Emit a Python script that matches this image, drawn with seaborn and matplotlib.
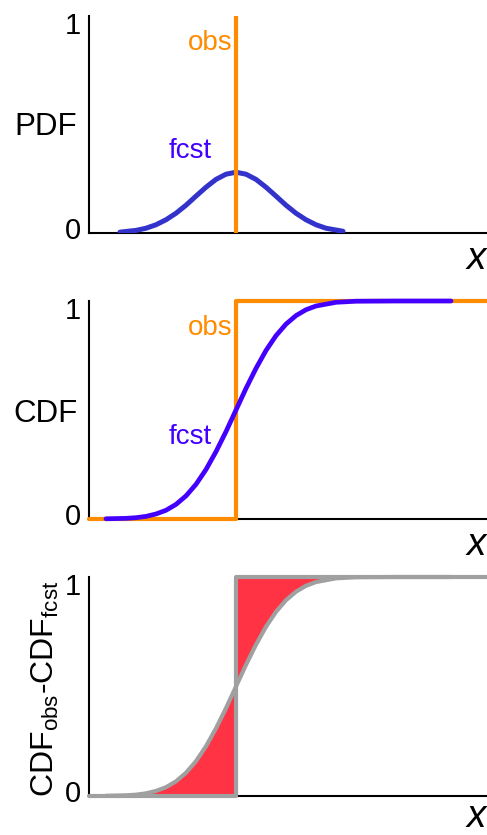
import numpy as np
import pandas as pd
import matplotlib
matplotlib.use("Agg")
import matplotlib.pyplot as plt
import seaborn as sns

# ---- data (x in units where obs = 0) ----
obs_x = 0.0
pdf_x = [-2.9, -2.5, -2.25, -2.0, -1.75, -1.5, -1.25, -1.0, -0.75, -0.5, -0.25,
         0.0, 0.25, 0.5, 0.75, 1.0, 1.25, 1.5, 1.75, 2.0, 2.25, 2.675]
pdf_y = [0.004, 0.012, 0.022, 0.038, 0.061, 0.091, 0.128, 0.170, 0.211, 0.247, 0.271,
         0.280, 0.271, 0.247, 0.211, 0.170, 0.128, 0.091, 0.061, 0.038, 0.022, 0.008]
cdf_x = [-3.25, -2.75, -2.5, -2.25, -2.0, -1.75, -1.5, -1.25, -1.0, -0.75, -0.5, -0.25,
         0.0, 0.25, 0.5, 0.75, 1.0, 1.25, 1.5, 1.75, 2.0, 2.5, 3.0, 4.0, 5.375]
cdf_y = [0.001, 0.003, 0.006, 0.012, 0.023, 0.040, 0.067, 0.106, 0.159, 0.227, 0.309, 0.401,
         0.500, 0.599, 0.691, 0.773, 0.841, 0.894, 0.933, 0.960, 0.977, 0.994, 0.999, 1.0, 1.0]
xlim = (-3.675, 6.275)
obs_step_x = [xlim[0], obs_x, obs_x, xlim[1]]
obs_step_y = [0, 0, 1, 1]
y_tick_labels = ["0", "1"]
panel_labels = ["PDF", "CDF", r"CDF$_{obs}$-CDF$_{fcst}$"]

# ---- style ----
sns.set_style("white")
plt.rcParams["font.family"] = ["Liberation Sans", "DejaVu Sans"]
plt.rcParams["mathtext.default"] = "regular"
plt.rcParams["text.color"] = "black"

ORANGE = "#FF8C00"
BLUE_PDF = "#3333CC"
BLUE = "#4400FF"
GREY = "#A0A0A0"
RED = "#FF3344"

fig = plt.figure(figsize=(4.87, 8.35), dpi=100)
W, H = 487.0, 835.0
left, right = 89, 487

def make_ax(top_px, bot_px):
    return fig.add_axes([left / W, 1 - bot_px / H, (right - left) / W, (bot_px - top_px) / H])

ax1 = make_ax(16, 233)
ax2 = make_ax(301, 519)
ax3 = make_ax(577, 796)

for ax, xl_y in ((ax1, -0.165), (ax2, -0.165), (ax3, -0.14)):
    ax.set_xlim(*xlim)
    ax.set_ylim(0, 1)
    sns.despine(ax=ax, top=True, right=True)
    for s in ("left", "bottom"):
        ax.spines[s].set_linewidth(1.5)
        ax.spines[s].set_color("black")
    ax.set_xticks([])
    ax.set_yticks([])
    ax.set_facecolor("none")
    # tick labels 0 / 1
    ax.text(-0.02, 0.917, y_tick_labels[1], transform=ax.transAxes, ha="right",
            va="baseline", fontsize=21, color="black")
    ax.text(-0.02, -0.028, y_tick_labels[0], transform=ax.transAxes, ha="right",
            va="baseline", fontsize=21, color="black")
    # italic x label at right
    ax.text(0.972, xl_y, "x", transform=ax.transAxes, ha="center", va="baseline",
            fontsize=28, style="italic", color="black")

# ---- panel 1: PDF ----
df_pdf = pd.DataFrame({"x": pdf_x, "y": pdf_y})
sns.lineplot(data=df_pdf, x="x", y="y", ax=ax1, color=BLUE_PDF, lw=3.6, zorder=3)
ax1.axvline(obs_x, ymin=0, ymax=1, color=ORANGE, lw=3.0, zorder=4)
ax1.text(-0.65, 0.843, "obs", transform=ax1.get_xaxis_transform(), ha="center",
         va="baseline", fontsize=20, color=ORANGE)
ax1.text(-1.15, 0.346, "fcst", transform=ax1.get_xaxis_transform(), ha="center",
         va="baseline", fontsize=20, color=BLUE)
ax1.text(-0.11, 0.45, panel_labels[0], transform=ax1.transAxes, ha="center",
         va="baseline", fontsize=22.5, color="black")
ax1.set_xlabel(""); ax1.set_ylabel("")

# ---- panel 2: CDF ----
df_obs = pd.DataFrame({"x": obs_step_x, "y": obs_step_y})
df_cdf = pd.DataFrame({"x": cdf_x, "y": cdf_y})
sns.lineplot(data=df_obs, x="x", y="y", ax=ax2, color=ORANGE, lw=3.0, sort=False,
             estimator=None, zorder=3, clip_on=False)
sns.lineplot(data=df_cdf, x="x", y="y", ax=ax2, color=BLUE, lw=3.4, zorder=4, clip_on=False)
ax2.text(-0.65, 0.844, "obs", transform=ax2.get_xaxis_transform(), ha="center",
         va="baseline", fontsize=20, color=ORANGE)
ax2.text(-1.15, 0.344, "fcst", transform=ax2.get_xaxis_transform(), ha="center",
         va="baseline", fontsize=20, color=BLUE)
ax2.text(-0.11, 0.445, panel_labels[1], transform=ax2.transAxes, ha="center",
         va="baseline", fontsize=22.5, color="black")
ax2.set_xlabel(""); ax2.set_ylabel("")

# ---- panel 3: difference ----
cx = np.array(cdf_x)
cy = np.array(cdf_y)
mid = cy[cx == obs_x][0]
lm = cx < obs_x
rm = cx > obs_x
ax3.fill(np.concatenate([cx[lm], [obs_x, obs_x]]),
         np.concatenate([cy[lm], [mid, 0.0]]), color=RED, lw=0, zorder=2)
ax3.fill(np.concatenate([[obs_x], cx[rm], [cx[-1], obs_x]]),
         np.concatenate([[mid], cy[rm], [1.0, 1.0]]), color=RED, lw=0, zorder=2)
sns.lineplot(data=df_obs, x="x", y="y", ax=ax3, color=GREY, lw=3.0, sort=False,
             estimator=None, zorder=3, clip_on=False)
sns.lineplot(data=df_cdf, x="x", y="y", ax=ax3, color=GREY, lw=3.0, zorder=4, clip_on=False)
ax3.text(-0.11, 0.49, panel_labels[2], transform=ax3.transAxes, ha="center",
         va="center", fontsize=23, rotation=90, color="black")
ax3.set_xlabel(""); ax3.set_ylabel("")

fig.savefig("out.png", dpi=100)
